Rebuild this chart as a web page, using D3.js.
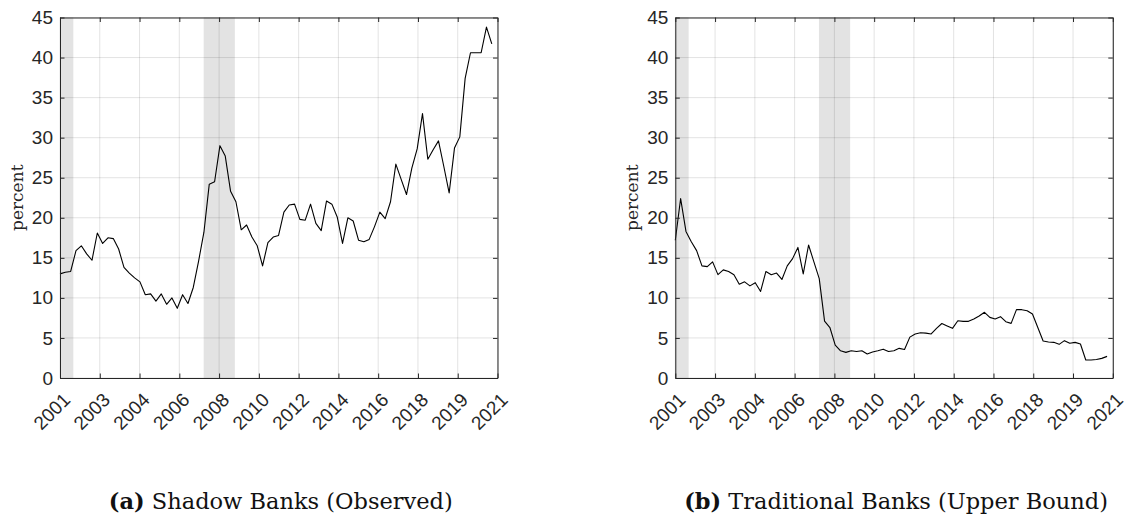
<!DOCTYPE html>
<html><head><meta charset="utf-8">
<script src="https://cdn.jsdelivr.net/npm/d3@7"></script>
<style>
html,body{margin:0;padding:0;background:#fff;}
svg{display:block;}
</style></head>
<body>
<svg id="chart" width="1124" height="518"></svg>
<script>
// ---- data (quarterly observations, index 0 = first quarter of 2001) ----
const shadowBanks = [13.0,13.2,13.3,15.9,16.5,15.5,14.7,18.1,16.8,17.5,17.4,16.1,13.8,13.1,12.5,12.0,10.4,10.5,9.6,10.5,
  9.2,10.0,8.7,10.4,9.3,11.3,14.6,18.2,24.2,24.5,29.0,27.7,23.3,22.0,18.5,19.1,17.6,16.5,14.0,16.9,
  17.6,17.8,20.7,21.6,21.7,19.8,19.7,21.7,19.3,18.4,22.1,21.7,20.1,16.8,20.0,19.6,17.2,17.0,17.3,18.9,
  20.7,19.9,22.0,26.7,24.8,22.9,26.2,28.6,33.0,27.3,28.5,29.6,26.4,23.1,28.7,30.1,37.4,40.6,40.6,40.6,
  43.8,41.7];
const traditionalBanks = [17.2,22.4,18.3,17.0,15.9,14.0,13.9,14.5,12.9,13.5,13.3,12.9,11.7,12.0,11.5,11.9,10.8,13.3,12.9,13.1,
  12.3,14.0,14.9,16.3,13.0,16.6,14.5,12.4,7.1,6.3,4.1,3.4,3.2,3.4,3.3,3.4,3.0,3.25,3.4,3.6,
  3.3,3.4,3.7,3.55,5.1,5.5,5.65,5.6,5.5,6.2,6.8,6.5,6.2,7.15,7.07,7.07,7.36,7.74,8.2,7.57,
  7.36,7.66,7.03,6.82,8.53,8.53,8.4,7.99,6.3,4.62,4.49,4.45,4.2,4.66,4.33,4.45,4.24,2.25,2.25,2.3,
  2.45,2.7];
const xTickLabels = ["2001","2003","2004","2006","2008","2010","2012","2014","2016","2018","2019","2021"];
const yTicks = [0,5,10,15,20,25,30,35,40,45];
const recessions = [[0, 2.5], [26.95, 32.8]];   // in quarter index units
const xDomain = [0, 82.07];
const yDomain = [0, 45];
const panels = [
  {label:"(a)", title:" Shadow Banks (Observed)", values: shadowBanks, left:60},
  {label:"(b)", title:" Traditional Banks (Upper Bound)", values: traditionalBanks, left:675.3}
];

const svg = d3.select("#chart");
const W = 437.5, plotTop = 17.5, plotBottom = 378;
const axisCol = "#262626";
const tickLen = 4.5;
const tickFont = "Liberation Sans, Arial, Helvetica, sans-serif";

panels.forEach(p => {
  const x = d3.scaleLinear().domain(xDomain).range([p.left, p.left + W]);
  const y = d3.scaleLinear().domain(yDomain).range([plotBottom, plotTop]);
  const xTickVals = xTickLabels.map((d,i) => xDomain[0] + i*(xDomain[1]-xDomain[0])/(xTickLabels.length-1));
  const g = svg.append("g");

  // recession bands
  g.selectAll("rect.rec").data(recessions).enter().append("rect")
    .attr("x", d => x(d[0])).attr("width", d => x(d[1]) - x(d[0]))
    .attr("y", plotTop).attr("height", plotBottom - plotTop)
    .attr("fill", "#e3e3e3");

  // grid
  g.selectAll("line.gx").data(xTickVals).enter().append("line")
    .attr("x1", d => x(d)).attr("x2", d => x(d)).attr("y1", plotTop).attr("y2", plotBottom)
    .attr("stroke", "#262626").attr("stroke-opacity", 0.13).attr("stroke-width", 1);
  g.selectAll("line.gy").data(yTicks).enter().append("line")
    .attr("y1", d => y(d)).attr("y2", d => y(d)).attr("x1", p.left).attr("x2", p.left + W)
    .attr("stroke", "#262626").attr("stroke-opacity", 0.13).attr("stroke-width", 1);

  // line
  const line = d3.line().x((d,i) => x(i)).y(d => y(d));
  g.append("path").datum(p.values).attr("d", line)
    .attr("fill", "none").attr("stroke", "#000").attr("stroke-width", 1.1).attr("stroke-linejoin","round");

  // axes (MATLAB-like box with inward ticks)
  const xb = d3.axisBottom(x).tickValues(xTickVals).tickSizeInner(-tickLen).tickSizeOuter(0).tickFormat("");
  const xt = d3.axisTop(x).tickValues(xTickVals).tickSizeInner(-tickLen).tickSizeOuter(0).tickFormat("");
  const yl = d3.axisLeft(y).tickValues(yTicks).tickSizeInner(-tickLen).tickSizeOuter(0).tickPadding(7);
  const yr = d3.axisRight(y).tickValues(yTicks).tickSizeInner(-tickLen).tickSizeOuter(0).tickFormat("");
  g.append("g").attr("transform", `translate(0,${plotBottom})`).call(xb);
  g.append("g").attr("transform", `translate(0,${plotTop})`).call(xt);
  const gyl = g.append("g").attr("transform", `translate(${p.left},0)`).call(yl);
  g.append("g").attr("transform", `translate(${p.left+W},0)`).call(yr);
  g.selectAll(".domain").attr("stroke", axisCol).attr("stroke-width", 1);
  g.selectAll(".tick line").attr("stroke", axisCol).attr("stroke-width", 1);
  gyl.selectAll(".tick text").attr("font-family", tickFont)
    .attr("font-size", 19).attr("fill", axisCol);

  // rotated x tick labels
  g.selectAll("text.xl").data(xTickVals).enter().append("text")
    .attr("transform", d => `translate(${x(d)+11.5},${plotBottom+23}) rotate(-45)`)
    .attr("text-anchor", "end")
    .attr("font-family", tickFont)
    .attr("font-size", 19).attr("fill", axisCol)
    .text((d,i) => xTickLabels[i]);

  // y axis label
  g.append("text")
    .attr("transform", `translate(${p.left-37},${(plotTop+plotBottom)/2}) rotate(-90)`)
    .attr("text-anchor", "middle")
    .attr("font-family", "DejaVu Serif, serif").attr("font-size", 17)
    .attr("fill", axisCol).text("percent");

  // caption
  const cap = svg.append("text")
    .attr("x", p.left + W/2 + 2).attr("y", 509).attr("text-anchor", "middle")
    .attr("font-family", "DejaVu Serif, serif").attr("font-size", 22.5).attr("fill", "#111");
  cap.append("tspan").attr("font-weight", "bold").text(p.label);
  cap.append("tspan").text(p.title);
});
</script>
</body></html>
